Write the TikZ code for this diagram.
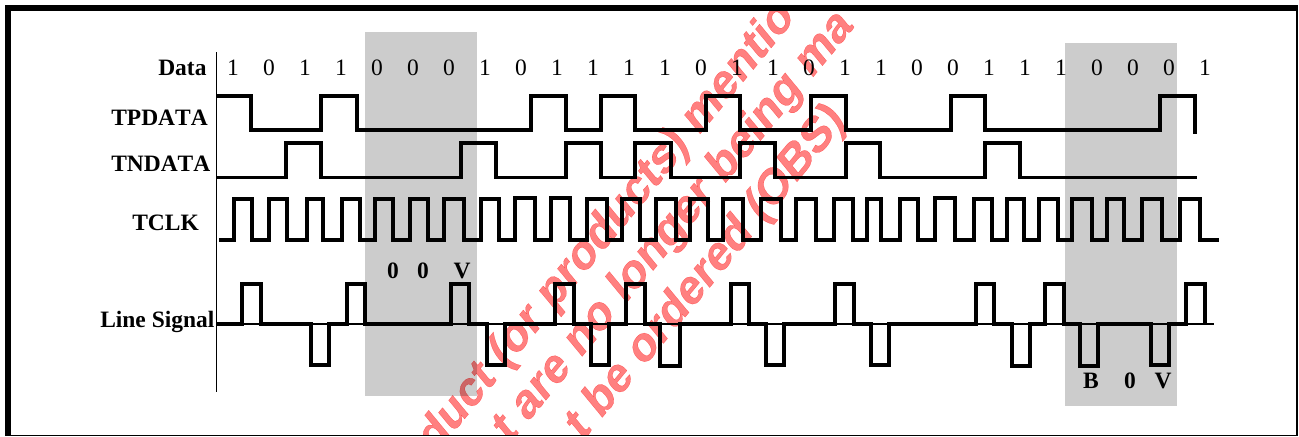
\documentclass[tikz,border=0pt]{standalone}
\usepackage{fontspec}
\setmainfont{Liberation Serif}[Kerning=Off]
\newfontfamily\wmfont{Liberation Sans}[BoldFont=* Bold,BoldFeatures={FakeBold=0.5}]
\definecolor{greybox}{HTML}{CCCCCC}
\definecolor{wmark}{HTML}{FF8080}
\tikzset{
  wave/.style={line width=2.4pt,line join=miter,line cap=butt},
  lab/.style={font=\fontsize{17.6}{20}\selectfont\bfseries,inner sep=0pt,anchor=base west},
  codemark/.style={font=\fontsize{17.6}{20}\selectfont\bfseries,inner sep=0pt,anchor=base},
  bitlabel/.style={font=\fontsize{17.6}{20}\selectfont,inner sep=0pt,anchor=base},
  wm/.style={font=\wmfont\fontsize{31.5}{40}\selectfont\bfseries,text=wmark,inner sep=0pt,anchor=base west,transform shape,rotate=45},
}
\begin{document}
\begin{tikzpicture}[x=0.75pt,y=-0.75pt]
\useasboundingbox (0,0) rectangle (1299,436);
% shaded windows
\fill[greybox] (365,32) rectangle (477,396);
\fill[greybox] (1065,43) rectangle (1177,406);
% frame
\fill[black] (5,5) rectangle (1298,11);
\fill[black] (5,5) rectangle (11,436);
\fill[black] (1296,5) rectangle (1298,436);
\fill[black] (5,434.5) rectangle (1298,435.7);
% axis
\draw[line width=1.1pt] (216.5,52) -- (216.5,392);
% labels
\node[lab] (ldata) at (158,75.7) {Data};
\node[lab] (ltp) at (111,125) {TPDATA};
\node[lab] (ltn) at (111,171) {TNDATA};
\node[lab] (lclk) at (132,230.7) {TCLK};
\node[lab] (lline) at (100,327) {Line Signal};
% data bits
\foreach \b [count=\i from 0] in {1,0,1,1,0,0,0,1,0,1,1,1,1,0,1,1,0,1,1,0,0,1,1,1,0,0,0,1}{
  \node[bitlabel] (d\i) at (233+36*\i,75) {\b};
}
% TPDATA
\draw[wave] (216,96) -| (251,130) -| (321,96) -| (357,130) -| (531,96) -| (566,130) -| (601,96) -| (635,130)
  -| (706,96) -| (740,130) -| (811,96) -| (846,130) -| (951,96) -| (985,130) -| (1160,96) -| (1195,134);
% TNDATA
\draw[wave] (216,177.5) -| (286,143) -| (321,177.5) -| (461,143) -| (496,177.5) -| (566,143) -| (601,177.5)
  -| (635,143) -| (671,177.5) -| (740,143) -| (775,177.5) -| (846,143) -| (880,177.5) -| (985,143) -| (1020,177.5) -- (1197,177.5);
% TCLK
\draw[wave] (219,240)
  -| (234,199) -| (252,240) -| (269,199) -| (287,240) -| (307,199) -| (323,240) -| (342,199) -| (360,240)
  -| (375,199) -| (393,240) -| (410,199) -| (428,240) -| (444,199) -| (464,240) -| (481,199) -| (499,240)
  -| (515,198) -| (535,240) -| (551,198) -| (570,240) -| (587,199) -| (607,240) -| (622,199) -| (640,240)
  -| (656,199) -| (676,240) -| (690,199) -| (708,240) -| (723,199) -| (743,240) -| (761,199) -| (781,240)
  -| (796,199) -| (816,240) -| (834,199) -| (853,240) -| (867,199) -| (881,240) -| (900,199) -| (918,240)
  -| (935,198) -| (955,240) -| (974,199) -| (992,240) -| (1007,199) -| (1024,240) -| (1039,199) -| (1058,240)
  -| (1072,199) -| (1092,240) -| (1107,199) -| (1124,240) -| (1142,199) -| (1162,240) -| (1180,199) -| (1200,240) -- (1219,240);
% Line signal: thin reference line, thick pulses
\draw[line width=0.8pt] (216,324) -- (1214,324);
\draw[wave] (216,324)
  -| (242,284) -| (261,324) -| (311,365) -| (329,324) -| (347,284) -| (365,324)
  -| (451,284) -| (469,324) -| (487,365) -| (505,324) -| (555,284) -| (574,324)
  -| (591,365) -| (609,324) -| (626,284) -| (645,324) -| (660,366) -| (680,324)
  -| (731,284) -| (749,324) -| (766,365) -| (784,324) -| (835,284) -| (854,324)
  -| (871,365) -| (889,324) -| (976,284) -| (994,324) -| (1012,366) -| (1030,324)
  -| (1045,284) -| (1064,324) -| (1080,366) -| (1098,324) -| (1151,365) -| (1169,324)
  -| (1186,284) -| (1205,324);
% marks
\node[codemark] (m1) at (393,278.5) {0};
\node[codemark] (m2) at (423,278.5) {0};
\node[codemark] (m3) at (462,278.5) {V};
\node[codemark] (m4) at (1091,388.5) {B};
\node[codemark] (m5) at (1130,388.5) {0};
\node[codemark] (m6) at (1163,388.5) {V};
% watermark
\begin{scope}[blend mode=multiply]
\clip (0,0) rectangle (1299,435);
\begin{scope}[yscale=1.21]
\node[wm] (w1) at (434,456/1.21) {duct (or products) mentio};
\node[wm] (w2) at (509,445/1.21) {t are no longer being ma};
\node[wm] (w3) at (582,442/1.21) {t be ordered (OBS)};
\end{scope}
\end{scope}
\end{tikzpicture}
\end{document}
